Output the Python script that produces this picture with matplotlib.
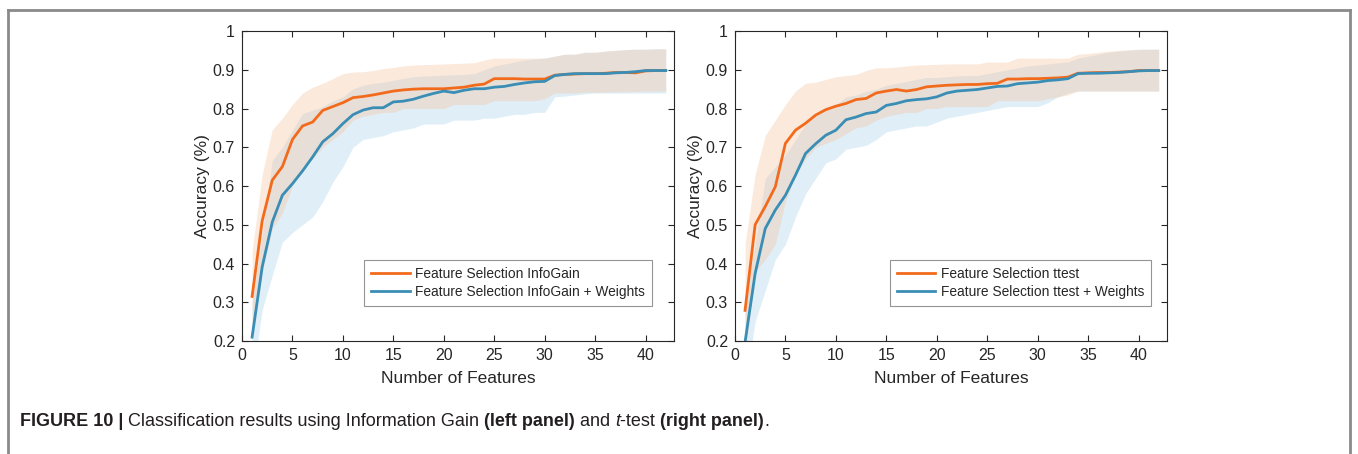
import numpy as np
import matplotlib
matplotlib.use("Agg")
from matplotlib import pyplot as plt
from matplotlib.lines import Line2D

plt.rcParams['font.family'] = ['Liberation Sans', 'DejaVu Sans']

n_features = list(range(1, 43))

# left panel: Information Gain
ig_mean = [0.315, 0.51, 0.615, 0.65, 0.72, 0.755, 0.765, 0.795, 0.805, 0.815,
           0.828, 0.831, 0.835, 0.84, 0.845, 0.848, 0.85, 0.851, 0.851, 0.851,
           0.853, 0.855, 0.86, 0.863, 0.877, 0.877, 0.877, 0.876, 0.876, 0.876,
           0.886, 0.888, 0.889, 0.89, 0.89, 0.891, 0.893, 0.893, 0.892, 0.897,
           0.898, 0.898]
ig_hi = [0.43, 0.63, 0.745, 0.775, 0.81, 0.84, 0.855, 0.865, 0.877, 0.89,
         0.894, 0.895, 0.898, 0.903, 0.906, 0.91, 0.912, 0.913, 0.914, 0.915,
         0.916, 0.917, 0.918, 0.925, 0.93, 0.93, 0.93, 0.93, 0.93, 0.93,
         0.935, 0.94, 0.94, 0.945, 0.945, 0.948, 0.95, 0.952, 0.953, 0.953,
         0.954, 0.954]
ig_lo = [0.22, 0.38, 0.49, 0.53, 0.6, 0.65, 0.67, 0.7, 0.72, 0.74,
         0.77, 0.78, 0.785, 0.79, 0.79, 0.8, 0.8, 0.8, 0.8, 0.8,
         0.81, 0.81, 0.81, 0.81, 0.82, 0.82, 0.82, 0.82, 0.82, 0.825,
         0.84, 0.84, 0.84, 0.842, 0.842, 0.842, 0.843, 0.843, 0.844, 0.845,
         0.845, 0.845]
igw_mean = [0.21, 0.391, 0.507, 0.576, 0.606, 0.639, 0.675, 0.714, 0.735, 0.761,
            0.784, 0.796, 0.802, 0.802, 0.817, 0.819, 0.824, 0.832, 0.839, 0.845,
            0.841, 0.847, 0.851, 0.851, 0.855, 0.857, 0.862, 0.866, 0.869, 0.87,
            0.885, 0.888, 0.89, 0.89, 0.89, 0.89, 0.892, 0.893, 0.895, 0.898,
            0.898, 0.898]
igw_hi = [0.3, 0.477, 0.666, 0.70, 0.744, 0.787, 0.796, 0.805, 0.82, 0.83,
          0.851, 0.86, 0.865, 0.868, 0.873, 0.878, 0.882, 0.884, 0.885, 0.886,
          0.887, 0.888, 0.89, 0.9, 0.91, 0.915, 0.92, 0.925, 0.928, 0.93,
          0.935, 0.94, 0.94, 0.945, 0.945, 0.948, 0.95, 0.952, 0.953, 0.953,
          0.954, 0.954]
igw_lo = [0.1, 0.28, 0.37, 0.455, 0.48, 0.5, 0.52, 0.56, 0.61, 0.65,
          0.7, 0.72, 0.725, 0.73, 0.74, 0.745, 0.75, 0.76, 0.76, 0.76,
          0.77, 0.77, 0.77, 0.775, 0.775, 0.78, 0.785, 0.785, 0.79, 0.79,
          0.83, 0.832, 0.835, 0.838, 0.84, 0.84, 0.84, 0.84, 0.84, 0.84,
          0.84, 0.84]

# right panel: t-test
tt_mean = [0.279, 0.5, 0.547, 0.598, 0.71, 0.744, 0.762, 0.783, 0.797, 0.806,
           0.813, 0.823, 0.826, 0.84, 0.845, 0.849, 0.845, 0.849, 0.856, 0.858,
           0.86, 0.861, 0.862, 0.862, 0.864, 0.865, 0.876, 0.876, 0.877, 0.877,
           0.878, 0.879, 0.881, 0.891, 0.892, 0.893, 0.893, 0.894, 0.895, 0.898,
           0.898, 0.898]
tt_hi = [0.45, 0.63, 0.73, 0.77, 0.81, 0.845, 0.865, 0.868, 0.875, 0.882,
         0.885, 0.888, 0.898, 0.905, 0.905, 0.907, 0.91, 0.912, 0.913, 0.914,
         0.915, 0.915, 0.915, 0.915, 0.92, 0.92, 0.92, 0.93, 0.93, 0.93,
         0.93, 0.93, 0.93, 0.94, 0.942, 0.945, 0.948, 0.95, 0.952, 0.953,
         0.953, 0.953]
tt_lo = [0.17, 0.38, 0.41, 0.45, 0.56, 0.63, 0.67, 0.7, 0.71, 0.72,
         0.735, 0.75, 0.755, 0.77, 0.78, 0.785, 0.79, 0.79, 0.8, 0.8,
         0.805, 0.805, 0.805, 0.805, 0.805, 0.82, 0.82, 0.82, 0.82, 0.82,
         0.825, 0.83, 0.835, 0.845, 0.845, 0.845, 0.845, 0.845, 0.845, 0.845,
         0.845, 0.845]
ttw_mean = [0.197, 0.374, 0.49, 0.538, 0.576, 0.628, 0.684, 0.709, 0.731, 0.744,
            0.771, 0.778, 0.787, 0.791, 0.808, 0.813, 0.82, 0.823, 0.825, 0.83,
            0.84, 0.845, 0.847, 0.849, 0.853, 0.857, 0.858, 0.864, 0.866, 0.868,
            0.872, 0.874, 0.877, 0.89, 0.891, 0.891, 0.892, 0.893, 0.895, 0.897,
            0.898, 0.898]
ttw_hi = [0.3, 0.45, 0.62, 0.65, 0.68, 0.72, 0.76, 0.78, 0.8, 0.81,
          0.83, 0.835, 0.845, 0.85, 0.86, 0.865, 0.87, 0.875, 0.88, 0.88,
          0.882, 0.884, 0.885, 0.885, 0.89, 0.895, 0.9, 0.905, 0.91, 0.912,
          0.915, 0.918, 0.92, 0.93, 0.935, 0.94, 0.945, 0.948, 0.95, 0.952,
          0.953, 0.953]
ttw_lo = [0.08, 0.25, 0.33, 0.41, 0.45, 0.52, 0.58, 0.62, 0.66, 0.67,
          0.695, 0.7, 0.705, 0.72, 0.74, 0.745, 0.75, 0.755, 0.755, 0.765,
          0.775, 0.78, 0.785, 0.79, 0.795, 0.8, 0.805, 0.805, 0.805, 0.805,
          0.815, 0.83, 0.84, 0.845, 0.845, 0.845, 0.845, 0.845, 0.845, 0.845,
          0.845, 0.845]

orange = '#F26B1D'
blue = '#3A8DB5'
orange_fill = '#F5C9A8'
blue_fill = '#96C8E6'
dark = '#262626'

fig = plt.figure(figsize=(13.58, 4.54), dpi=100)


def draw_panel(left, m1, hi1, lo1, m2, hi2, lo2, name, leg_right):
    ax = fig.add_axes([left, 0.2489, 0.318, 0.6828])
    # shaded spread first, blue under orange
    ax.fill_between(n_features, lo2, hi2, color=blue_fill, alpha=0.3, lw=0)
    ax.fill_between(n_features, lo1, hi1, color=orange_fill, alpha=0.4, lw=0)
    ax.plot(n_features, m1, color=orange, lw=2, label='Feature Selection ' + name)
    ax.plot(n_features, m2, color=blue, lw=2, label='Feature Selection ' + name + ' + Weights')
    ax.set_xlim(0, 42.8)
    ax.set_ylim(0.2, 1)
    ax.set_xticks([0, 5, 10, 15, 20, 25, 30, 35, 40])
    ax.set_yticks([0.2, 0.3, 0.4, 0.5, 0.6, 0.7, 0.8, 0.9, 1])
    ax.set_yticklabels(['0.2', '0.3', '0.4', '0.5', '0.6', '0.7', '0.8', '0.9', '1'])
    ax.tick_params(direction='in', top=True, right=True, length=4, width=0.8,
                   labelsize=11.5, colors=dark, pad=5)
    for s in ax.spines.values():
        s.set_color(dark)
        s.set_linewidth(0.8)
    ax.set_xlabel('Number of Features', fontsize=12.5, color=dark, labelpad=6)
    ax.set_ylabel('Accuracy (%)', fontsize=12.5, color=dark, labelpad=2)
    leg = ax.legend(loc='lower right', bbox_to_anchor=(leg_right, 0.113),
                    fontsize=9.9, frameon=True, fancybox=False, handlelength=2.8,
                    borderpad=0.5, labelspacing=0.3, handletextpad=0.4,
                    borderaxespad=0)
    leg.get_frame().set_edgecolor('#7a7a7a')
    leg.get_frame().set_linewidth(0.8)
    for t in leg.get_texts():
        t.set_color(dark)
    return ax


draw_panel(0.1782, ig_mean, ig_hi, ig_lo, igw_mean, igw_hi, igw_lo, 'InfoGain', 0.949)
draw_panel(0.5412, tt_mean, tt_hi, tt_lo, ttw_mean, ttw_hi, ttw_lo, 'ttest', 0.963)

# frame around the figure (open at the bottom)
W, H = 1358.0, 454.0
frame_col = '#8a8a8a'
fig.add_artist(Line2D([8 / W, 1350 / W], [1 - 10 / H, 1 - 10 / H], color=frame_col, lw=2,
                      transform=fig.transFigure))
fig.add_artist(Line2D([8 / W, 8 / W], [0, 1 - 10 / H], color=frame_col, lw=2,
                      transform=fig.transFigure))
fig.add_artist(Line2D([1350 / W, 1350 / W], [0, 1 - 10 / H], color=frame_col, lw=2,
                      transform=fig.transFigure))

# caption, written piece by piece
pieces = [
    ('FIGURE 10 | ', 'bold', 'normal'),
    ('Classification results using Information Gain ', 'normal', 'normal'),
    ('(left panel)', 'bold', 'normal'),
    (' and ', 'normal', 'normal'),
    ('t', 'normal', 'italic'),
    ('-test ', 'normal', 'normal'),
    ('(right panel)', 'bold', 'normal'),
    ('.', 'normal', 'normal'),
]
renderer = fig.canvas.get_renderer()
x = 20 / W
for txt, wt, st in pieces:
    t = fig.text(x, 1 - 422 / H, txt, fontsize=13, fontweight=wt, fontstyle=st,
                 color='#231F20', va='center', ha='left')
    bb = t.get_window_extent(renderer=renderer)
    x += bb.width / W

fig.savefig('out.png', dpi=100)
